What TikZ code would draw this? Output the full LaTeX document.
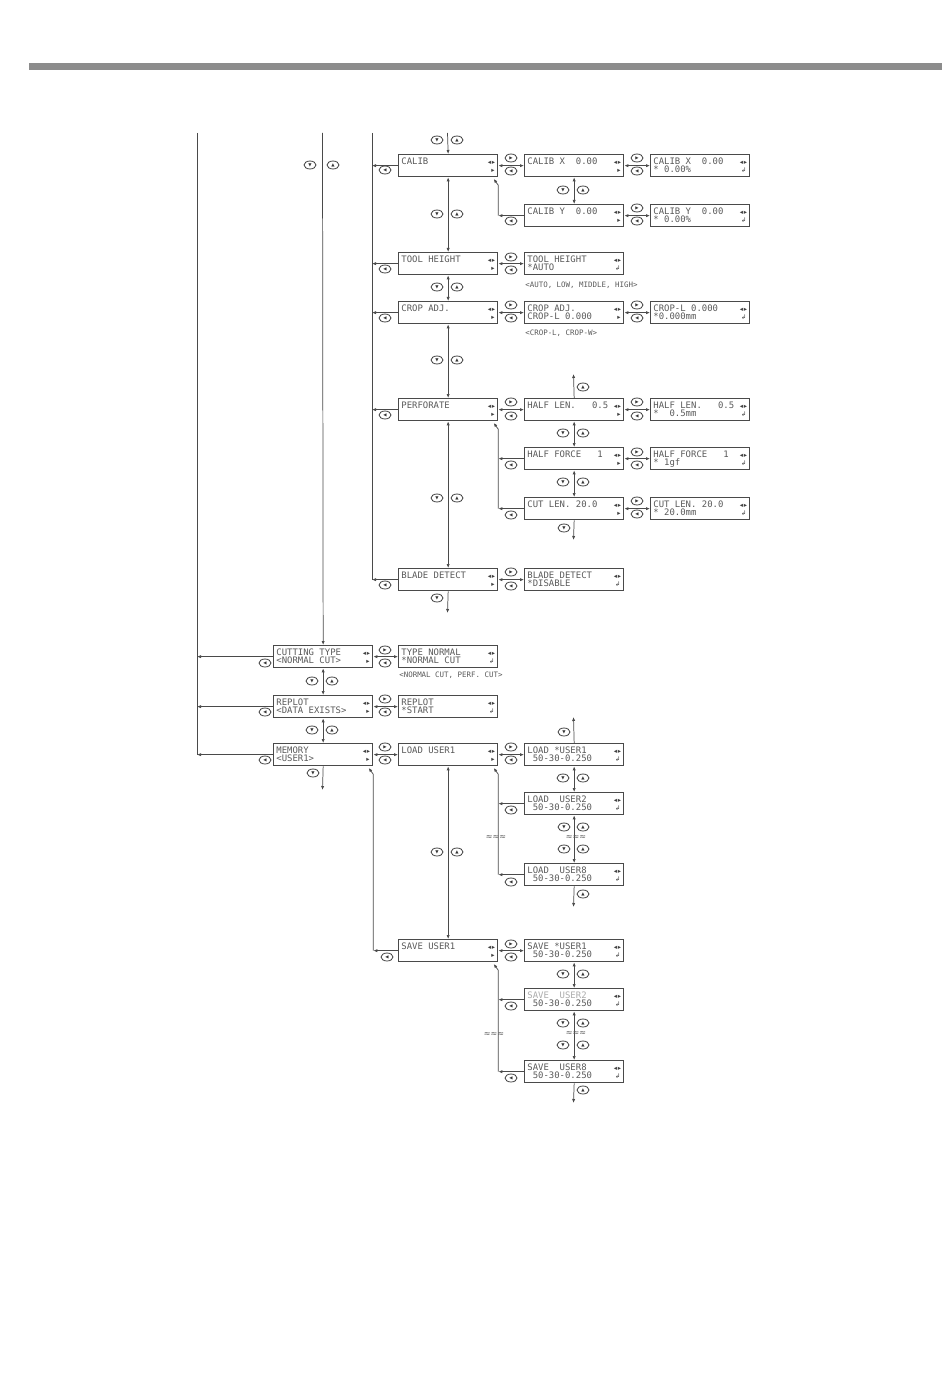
\documentclass[tikz,border=0pt]{standalone}
\usepackage{fontspec}
\setmainfont{Liberation Sans}
\newfontfamily\lcdfont{DejaVu Sans Mono}
\newfontfamily\symfont{DejaVu Sans}
\usetikzlibrary{arrows.meta,shapes.geometric}
\definecolor{lcdtext}{HTML}{5A5A5A}
\definecolor{lcdline}{HTML}{4A4A4A}
\definecolor{connc}{HTML}{4A4A4A}
\definecolor{barc}{HTML}{8C8C8C}
\tikzset{
  lcd/.style={draw=lcdline, line width=1pt, fill=white, minimum width=74.25pt,
    minimum height=16.5pt, inner sep=0pt, anchor=north west},
  lcdt/.style={anchor=base west, inner sep=0pt, text=lcdtext,
    font=\lcdfont\fontsize{6.7}{7}\selectfont},
  lind/.style={anchor=base east, inner sep=0pt, text=lcdtext!70!black,
    font=\symfont\fontsize{4.8}{5}\selectfont},
  keyb/.style={ellipse, draw=black!75, line width=0.6pt, minimum width=9pt,
    minimum height=6pt, inner sep=0pt, fill=white,
    font=\symfont\fontsize{3.2}{3.2}\selectfont, text=black!80},
  ln/.style={draw=connc, line width=0.55pt},
  ar/.style={ln, -{Latex[length=3pt,width=2.4pt]}},
  dar/.style={ln, {Latex[length=3pt,width=2.4pt]}-{Latex[length=3pt,width=2.4pt]}},
  note/.style={anchor=base west, inner sep=0pt, text=lcdtext,
    font=\lcdfont\fontsize{5.6}{6}\selectfont},
  brk/.style={inner sep=0pt, text=lcdtext, font=\symfont\fontsize{6}{6}\selectfont},
}
\newcommand\lcdbox[6]{%
  \node[lcd] (#1) at (#2,#3) {};
  \node[lcdt] (#1-a) at ([xshift=2.4pt,yshift=-7.6pt]#1.north west) {#4};
  \node[lcdt] (#1-b) at ([xshift=2.4pt,yshift=-14.2pt]#1.north west) {#5};
  \node[lind] (#1-c) at ([xshift=-2.2pt,yshift=-7.6pt]#1.north east) {◂\kern0.6pt▸};
  \node[lind] (#1-d) at ([xshift=-2.6pt,yshift=-14.2pt]#1.north east) {#6};
}
\newcommand\keyb[4]{\node[keyb] (#1) at (#2,#3) {#4};}
\newcommand\KU{▲}
\newcommand\KD{▼}
\newcommand\KL{◀}
\newcommand\KR{▶}
\newcommand\MR{▸}
\newcommand\RT{↲}

\begin{document}
\begin{tikzpicture}[x=0.75pt,y=-0.75pt]
\useasboundingbox (0,0) rectangle (950,1376);
\fill[barc] (29,63) rectangle (942,70);

% free ends
\coordinate (L0) at (197,133);
\coordinate (L1) at (322.5,133);
\coordinate (L2) at (372,133);
\coordinate (T0) at (447.5,133);
\coordinate (HLup) at (573.5,374);
\coordinate (CLdn) at (573.5,540);
\coordinate (BLdn) at (447.5,613);
\coordinate (MEdn) at (322.5,790);
\coordinate (LSup) at (573.5,717);
\coordinate (L8dn) at (573.5,907);
\coordinate (S8dn) at (573.5,1103);

% ---------- upper boxes
\lcdbox{CALIB}{398}{154}{CALIB}{}{\MR}
\lcdbox{CALX}{524}{154}{CALIB~X~~0.00}{}{\MR}
\lcdbox{CALXC}{650}{154}{CALIB~X~~0.00}{*~0.00\%}{\RT}
\lcdbox{CALY}{524}{204}{CALIB~Y~~0.00}{}{\MR}
\lcdbox{CALYC}{650}{204}{CALIB~Y~~0.00}{*~0.00\%}{\RT}
\lcdbox{TOOLH}{398}{252}{TOOL~HEIGHT}{}{\MR}
\lcdbox{TOOLHB}{524}{252}{TOOL~HEIGHT}{*AUTO}{\RT}
\lcdbox{CROPA}{398}{301}{CROP~ADJ.}{}{\MR}
\lcdbox{CROPB}{524}{301}{CROP~ADJ.}{CROP-L~0.000}{\MR}
\lcdbox{CROPC}{650}{301}{CROP-L~0.000}{*0.000mm}{\RT}
\lcdbox{PERF}{398}{398}{PERFORATE}{}{\MR}
\lcdbox{HLEN}{524}{398}{HALF~LEN.~~~0.5}{}{\MR}
\lcdbox{HLENC}{650}{398}{HALF~LEN.~~~0.5}{*~~0.5mm}{\RT}
\lcdbox{HFORCE}{524}{447}{HALF~FORCE~~~1}{}{\MR}
\lcdbox{HFORCEC}{650}{447}{HALF~FORCE~~~1}{*~1gf}{\RT}
\lcdbox{CUTLEN}{524}{497}{CUT~LEN.~20.0}{}{\MR}
\lcdbox{CUTLENC}{650}{497}{CUT~LEN.~20.0}{*~20.0mm}{\RT}
\lcdbox{BLADE}{398}{568}{BLADE~DETECT}{}{\MR}
\lcdbox{BLADEB}{524}{568}{BLADE~DETECT}{*DISABLE}{\RT}

% ---------- lower boxes
\lcdbox{CUT}{273}{645}{CUTTING~TYPE}{<NORMAL~CUT>}{\MR}
\lcdbox{TYPEN}{398}{645}{TYPE~NORMAL}{*NORMAL~CUT}{\RT}
\lcdbox{REPLOT}{273}{695}{REPLOT}{<DATA~EXISTS>}{\MR}
\lcdbox{REPLOTB}{398}{695}{REPLOT}{*START}{\RT}
\lcdbox{MEM}{273}{743}{MEMORY}{<USER1>}{\MR}
\lcdbox{LOAD1}{398}{743}{LOAD~USER1}{}{\MR}
\lcdbox{LOADS1}{524}{743}{LOAD~*USER1}{\hphantom{0}50-30-0.250}{\RT}
\lcdbox{LOAD2}{524}{792}{LOAD~~USER2}{\hphantom{0}50-30-0.250}{\RT}
\lcdbox{LOAD8}{524}{863}{LOAD~~USER8}{\hphantom{0}50-30-0.250}{\RT}
\lcdbox{SAVE1}{398}{939}{SAVE~USER1}{}{\MR}
\lcdbox{SAVES1}{524}{939}{SAVE~*USER1}{\hphantom{0}50-30-0.250}{\RT}
\lcdbox{SAVE2}{524}{988}{{\color{lcdtext!50}SAVE~~USER2}}{\hphantom{0}50-30-0.250}{\RT}
\lcdbox{SAVE8}{524}{1060}{SAVE~~USER8}{\hphantom{0}50-30-0.250}{\RT}

% notes
\node[note] (n1) at (525,287) {<AUTO,~LOW,~MIDDLE,~HIGH>};
\node[note] (n2) at (525,335) {<CROP-L,~CROP-W>};
\node[note] (n3) at (399,677) {<NORMAL~CUT,~PERF.~CUT>};

% ---------- main vertical lines
\draw[ln] (L0) -- (MEM.west -| L0);
\draw[ar] (L1) -- (CUT.north);
\draw[ln] (L2) -- (BLADE.west -| L2);
\draw[ar] (T0) -- (CALIB.north);

% left arrows to L2
\foreach \b in {CALIB,TOOLH,CROPA,PERF,BLADE}
  \draw[ar] (\b.west) -- (\b.west -| L2);
% left arrows to L0
\foreach \b in {CUT,REPLOT,MEM}
  \draw[ar] (\b.west) -- (\b.west -| L0);

% horizontal double arrows
\draw[dar] (CALIB.east) -- (CALX.west);
\draw[dar] (CALX.east) -- (CALXC.west);
\draw[dar] (CALY.east) -- (CALYC.west);
\draw[dar] (TOOLH.east) -- (TOOLHB.west);
\draw[dar] (CROPA.east) -- (CROPB.west);
\draw[dar] (CROPB.east) -- (CROPC.west);
\draw[dar] (PERF.east) -- (HLEN.west);
\draw[dar] (HLEN.east) -- (HLENC.west);
\draw[dar] (HFORCE.east) -- (HFORCEC.west);
\draw[dar] (CUTLEN.east) -- (CUTLENC.west);
\draw[dar] (BLADE.east) -- (BLADEB.west);
\draw[dar] (CUT.east) -- (TYPEN.west);
\draw[dar] (REPLOT.east) -- (REPLOTB.west);
\draw[dar] (MEM.east) -- (LOAD1.west);
\draw[dar] (LOAD1.east) -- (LOADS1.west);
\draw[dar] (SAVE1.east) -- (SAVES1.west);

% vertical double arrows
\draw[dar] (CALIB.south) -- (TOOLH.north);
\draw[dar] (TOOLH.south) -- (CROPA.north);
\draw[dar] (CROPA.south) -- (PERF.north);
\draw[dar] (PERF.south) -- (BLADE.north);
\draw[dar] (CALX.south) -- (CALY.north);
\draw[dar] (HLEN.south) -- (HFORCE.north);
\draw[dar] (HFORCE.south) -- (CUTLEN.north);
\draw[dar] (CUT.south) -- (REPLOT.north);
\draw[dar] (REPLOT.south) -- (MEM.north);
\draw[dar] (LOAD1.south) -- (SAVE1.north);
\draw[dar] (LOADS1.south) -- (LOAD2.north);
\draw[dar] (LOAD2.south) -- (LOAD8.north);
\draw[dar] (SAVES1.south) -- (SAVE2.north);
\draw[dar] (SAVE2.south) -- (SAVE8.north);

% single up / down arrows
\draw[ar] (HLEN.north) -- (HLup);
\draw[ar] (CUTLEN.south) -- (CLdn);
\draw[ar] (BLADE.south) -- (BLdn);
\draw[ar] (MEM.south) -- (MEdn);
\draw[ar] (LOADS1.north) -- (LSup);
\draw[ar] (LOAD8.south) -- (L8dn);
\draw[ar] (SAVE8.south) -- (S8dn);

% return paths
\draw[ar] (CALY.west) -- (CALY.west -| CALIB.east);
\draw[ar] (CALY.west -| CALIB.east) -- ([yshift=-6pt]CALIB.south east) -- ([xshift=-3.5pt,yshift=-1.2pt]CALIB.south east);

\draw[ar] (HFORCE.west) -- (HFORCE.west -| PERF.east);
\draw[ar] (CUTLEN.west) -- (CUTLEN.west -| PERF.east);
\draw[ar] (CUTLEN.west -| PERF.east) -- ([yshift=-6pt]PERF.south east) -- ([xshift=-3.5pt,yshift=-1.2pt]PERF.south east);

\draw[ar] (LOAD2.west) -- (LOAD2.west -| LOAD1.east);
\draw[ar] (LOAD8.west) -- (LOAD8.west -| LOAD1.east);
\draw[ar] (LOAD8.west -| LOAD1.east) -- ([yshift=-6pt]LOAD1.south east) -- ([xshift=-3.5pt,yshift=-1.2pt]LOAD1.south east);

\draw[ar] (SAVE2.west) -- (SAVE2.west -| SAVE1.east);
\draw[ar] (SAVE8.west) -- (SAVE8.west -| SAVE1.east);
\draw[ar] (SAVE8.west -| SAVE1.east) -- ([yshift=-6pt]SAVE1.south east) -- ([xshift=-3.5pt,yshift=-1.2pt]SAVE1.south east);

\draw[ar] (SAVE1.west) -- (SAVE1.west -| MEM.east);
\draw[ar] (SAVE1.west -| MEM.east) -- ([yshift=-6pt]MEM.south east) -- ([xshift=-3.5pt,yshift=-1.2pt]MEM.south east);

% break marks
\node[brk] (br1) at (576,838) {≈≈≈};
\node[brk] (br2) at (496,838) {≈≈≈};
\node[brk] (br3) at (576,1034) {≈≈≈};
\node[brk] (br4) at (494,1035) {≈≈≈};

% ---------- keys
\keyb{k1}{437}{140}{\KD}\keyb{k2}{457}{140}{\KU}
\keyb{k3}{310}{165}{\KD}\keyb{k4}{333}{165}{\KU}
\keyb{k5}{385}{170}{\KL}
\keyb{k6}{511}{158}{\KR}\keyb{k7}{511}{171}{\KL}
\keyb{k8}{637}{158}{\KR}\keyb{k9}{637}{171}{\KL}
\keyb{k10}{563}{190}{\KD}\keyb{k11}{583}{190}{\KU}
\keyb{k12}{511}{221}{\KL}
\keyb{k13}{637}{208}{\KR}\keyb{k14}{637}{221}{\KL}
\keyb{k15}{437}{214}{\KD}\keyb{k16}{457}{214}{\KU}
\keyb{k17}{385}{269}{\KL}
\keyb{k18}{511}{257}{\KR}\keyb{k19}{511}{270}{\KL}
\keyb{k20}{437}{287}{\KD}\keyb{k21}{457}{287}{\KU}
\keyb{k22}{385}{318}{\KL}
\keyb{k23}{511}{305}{\KR}\keyb{k24}{511}{318}{\KL}
\keyb{k25}{637}{305}{\KR}\keyb{k26}{637}{318}{\KL}
\keyb{k27}{437}{360}{\KD}\keyb{k28}{457}{360}{\KU}
\keyb{k29}{385}{415}{\KL}
\keyb{k30}{511}{402}{\KR}\keyb{k31}{511}{416}{\KL}
\keyb{k32}{637}{402}{\KR}\keyb{k33}{637}{416}{\KL}
\keyb{k34}{583}{387}{\KU}
\keyb{k35}{563}{433}{\KD}\keyb{k36}{583}{433}{\KU}
\keyb{k37}{511}{465}{\KL}
\keyb{k38}{637}{452}{\KR}\keyb{k39}{637}{465}{\KL}
\keyb{k40}{563}{482}{\KD}\keyb{k41}{583}{482}{\KU}
\keyb{k42}{511}{515}{\KL}
\keyb{k43}{637}{501}{\KR}\keyb{k44}{637}{514}{\KL}
\keyb{k45}{564}{528}{\KD}
\keyb{k46}{437}{498}{\KD}\keyb{k47}{457}{498}{\KU}
\keyb{k48}{385}{585}{\KL}
\keyb{k49}{511}{572}{\KR}\keyb{k50}{511}{586}{\KL}
\keyb{k51}{437}{598}{\KD}
\keyb{k52}{265}{663}{\KL}
\keyb{k53}{385}{650}{\KR}\keyb{k54}{385}{663}{\KL}
\keyb{k55}{312}{681}{\KD}\keyb{k56}{332}{681}{\KU}
\keyb{k57}{265}{712}{\KL}
\keyb{k58}{385}{699}{\KR}\keyb{k59}{385}{712}{\KL}
\keyb{k60}{312}{730}{\KD}\keyb{k61}{332}{730}{\KU}
\keyb{k62}{265}{760}{\KL}
\keyb{k63}{385}{747}{\KR}\keyb{k64}{385}{760}{\KL}
\keyb{k65}{313}{773}{\KD}
\keyb{k66}{511}{747}{\KR}\keyb{k67}{511}{760}{\KL}
\keyb{k68}{564}{732}{\KD}
\keyb{k69}{563}{778}{\KD}\keyb{k70}{583}{778}{\KU}
\keyb{k71}{511}{810}{\KL}
\keyb{k72}{564}{827}{\KD}\keyb{k73}{583}{827}{\KU}
\keyb{k74}{564}{849}{\KD}\keyb{k75}{583}{849}{\KU}
\keyb{k76}{511}{882}{\KL}
\keyb{k77}{583}{894}{\KU}
\keyb{k78}{437}{852}{\KD}\keyb{k79}{457}{852}{\KU}
\keyb{k80}{387}{957}{\KL}
\keyb{k81}{511}{944}{\KR}\keyb{k82}{511}{957}{\KL}
\keyb{k83}{563}{974}{\KD}\keyb{k84}{583}{974}{\KU}
\keyb{k85}{511}{1006}{\KL}
\keyb{k86}{563}{1023}{\KD}\keyb{k87}{583}{1023}{\KU}
\keyb{k88}{563}{1045}{\KD}\keyb{k89}{583}{1045}{\KU}
\keyb{k90}{511}{1078}{\KL}
\keyb{k91}{583}{1090}{\KU}
\end{tikzpicture}
\end{document}
